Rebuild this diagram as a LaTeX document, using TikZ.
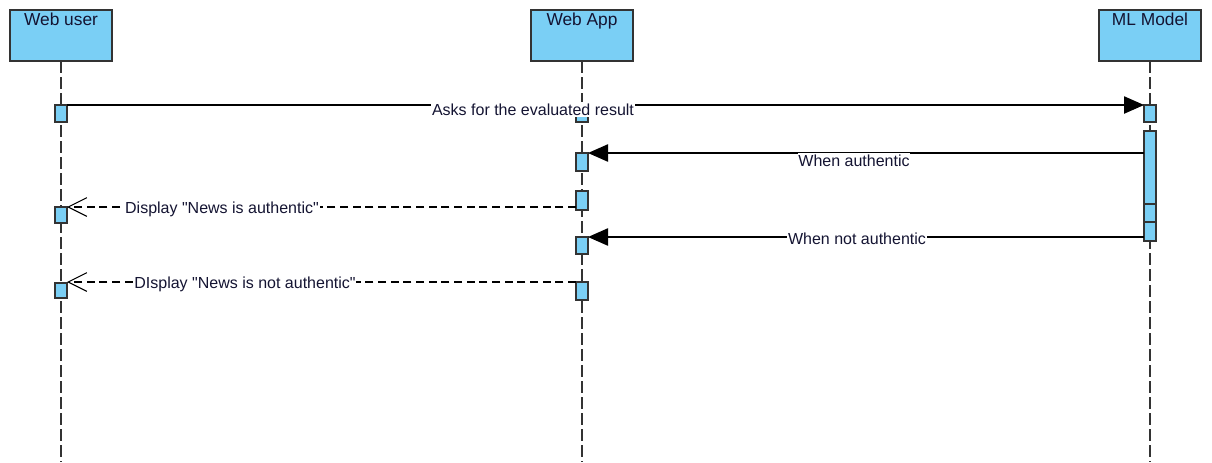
\documentclass[tikz,border=0pt]{standalone}
\usepackage{fontspec}
\setmainfont{Liberation Sans}
\usetikzlibrary{arrows.meta}
\definecolor{actfill}{RGB}{122,207,245}
\definecolor{edge}{RGB}{51,51,51}
\definecolor{ink}{RGB}{20,20,50}
\tikzset{
  head/.style={draw=edge, line width=1pt, fill=actfill, minimum width=102*0.75pt,
    minimum height=51*0.75pt, inner sep=0pt, outer sep=0pt},
  headtext/.style={font=\fontsize{13}{15}\selectfont, anchor=base, inner sep=0pt, text=ink},
  lifeline/.style={draw=edge, line width=1pt, dash pattern=on 9pt off 3pt},
  act/.style={draw=edge, line width=0.9pt, fill=actfill, minimum width=12*0.75pt,
    inner sep=0pt, outer sep=0pt},
  syncmsg/.style={draw=black, line width=0.9pt, -{Triangle[length=15pt,width=13pt]}},
  replymsg/.style={draw=black, line width=0.8pt, dash pattern=on 6pt off 3.5pt,
    -{Straight Barb[length=14pt,width=14pt,line width=0.8pt]}},
  lbl/.style={font=\fontsize{12}{14}\selectfont, fill=white, inner xsep=0.5pt, inner ysep=1.5pt,
    text=ink}
}
\begin{document}
\begin{tikzpicture}[x=0.75pt,y=-0.75pt]
\useasboundingbox (0,0) rectangle (1212,462);

% lifeline heads
\node[head] (user) at (61,35.5) {};
\node[head] (app) at (582,35.5) {};
\node[head] (model) at (1150,35.5) {};
\node[headtext] (usert) at (61,25) {Web user};
\node[headtext] (appt) at (582,25) {Web App};
\node[headtext] (modelt) at (1150,25) {ML Model};

% lifelines
\coordinate (userend) at (61,462);
\coordinate (append) at (582,462);
\coordinate (modelend) at (1150,462);
\draw[lifeline] (user.south) -- (userend);
\draw[lifeline] (app.south) -- (append);
\draw[lifeline] (model.south) -- (modelend);

% activation bars
\node[act, minimum height=17*0.75pt] (u1) at (61,113.5) {};
\node[act, minimum height=16*0.75pt] (u2) at (61,215) {};
\node[act, minimum height=15*0.75pt] (u3) at (61,290.5) {};
\node[act, minimum height=17*0.75pt] (a1) at (582,113.5) {};
\node[act, minimum height=18*0.75pt] (a2) at (582,162) {};
\node[act, minimum height=19*0.75pt] (a3) at (582,200.5) {};
\node[act, minimum height=17*0.75pt] (a4) at (582,245.5) {};
\node[act, minimum height=18*0.75pt] (a5) at (582,291) {};
\node[act, minimum height=17*0.75pt] (m1) at (1150,113.5) {};
\node[act, minimum height=73*0.75pt] (m2) at (1150,167.5) {};
\node[act, minimum height=18*0.75pt] (m3) at (1150,213) {};
\node[act, minimum height=19*0.75pt] (m4) at (1150,231.5) {};

% messages
\draw[syncmsg] (u1.north east) -- (m1.north west);
\draw[syncmsg] (a2.north east -| m2.west) -- (a2.north east);
\draw[replymsg] (u2.north east -| a3.west) -- (u2.north east);
\draw[syncmsg] (a4.north east -| m4.west) -- (a4.north east);
\draw[replymsg] (a5.north west) -- (a5.north west -| u3.east);

% message labels
\node[lbl] (l1) at (533,109.5) {Asks for the evaluated result};
\node[lbl] (l2) at (854,161) {When authentic};
\node[lbl] (l3) at (222,209) {Display \textquotedbl News is authentic\textquotedbl};
\node[lbl] (l4) at (857,239) {When not authentic};
\node[lbl] (l5) at (245,284.5) {DIsplay \textquotedbl News is not authentic\textquotedbl};
\end{tikzpicture}
\end{document}
